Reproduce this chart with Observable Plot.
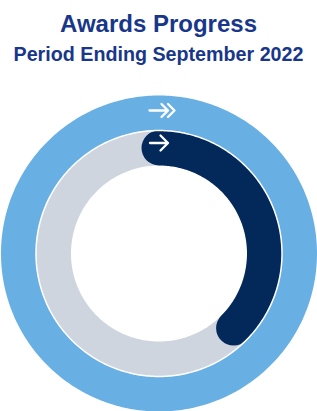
<!DOCTYPE html>
<html>
<head>
<meta charset="utf-8">
<script src="https://cdn.jsdelivr.net/npm/d3@7"></script>
<script src="https://cdn.jsdelivr.net/npm/@observablehq/plot@0.6"></script>
<style>
  html, body { margin: 0; padding: 0; background: #ffffff; }
  #wrap { position: relative; width: 317px; height: 411px; overflow: hidden; }
  .t { position: absolute; left: 0; width: 317px; text-align: center; white-space: nowrap;
       font-family: "Liberation Sans", Arial, sans-serif; font-weight: bold; color: #18378a; }
  #title { top: 12px; font-size: 24px; line-height: 24px; }
  #subtitle { top: 44.5px; font-size: 19.7px; line-height: 19.7px; }
  #chart { position: absolute; top: 70px; left: 0; }
</style>
</head>
<body>
<div id="wrap">
  <div class="t" id="title"></div>
  <div class="t" id="subtitle"></div>
  <div id="chart"></div>
</div>
<script>
// ---- data ----
const titleText = "Awards Progress";
const subtitleText = "Period Ending September 2022";
const rings = ["Target", "Awards"];
const progressPct = [100, 37.5];   // outer ring = full target, inner = awards progress
const trackPct = [100, 100];
const ringHeads = [2, 1];          // double arrow on outer ring, single on inner

document.getElementById("title").textContent = titleText;
document.getElementById("subtitle").textContent = subtitleText;

// ---- styling constants ----
const W = 317, H = 341;
const ringR = {Target: 140.5, Awards: 105.5, sep: 123};
const ringW = 35;
const colors = {Target: "#68afe4", Awards: "#03285a", track: "#cfd5de"};
const iconStyle = {
  Target: {dx: 3, dy: 2.5, len: 25, head: 6.5, gap: 6.5},
  Awards: {dx: 0, dy: 5, len: 18, head: 7.5, gap: 0}
};

function arcPoints(name, pct) {
  const r = ringR[name];
  const n = Math.max(2, Math.round(pct * 4));
  const pts = [];
  for (let i = 0; i <= n; i++) {
    const a = (pct / 100) * (i / n) * 2 * Math.PI;
    pts.push({ring: name, x: r * Math.sin(a), y: r * Math.cos(a)});
  }
  return pts;
}

function arrowShape(heads, head, gap) {
  return {
    draw(context, l) {
      const shaftEnd = -l + (heads - 1) * gap;
      context.moveTo(0, 0);
      context.lineTo(0, shaftEnd);
      for (let k = 0; k < heads; k++) {
        const tip = -l + k * gap;
        context.moveTo(-head, tip + head);
        context.lineTo(0, tip);
        context.lineTo(head, tip + head);
      }
    }
  };
}

const outer = arcPoints(rings[0], progressPct[0]);
const track = arcPoints(rings[1], trackPct[1]);
const progress = arcPoints(rings[1], progressPct[1]);
const sepPts = arcPoints("sep", 100);

const iconMarks = rings.map((name, i) => {
  const s = iconStyle[name];
  return Plot.vector([name], {
    x: () => s.dx,
    y: () => ringR[name] + s.dy,
    length: s.len,
    rotate: 90,
    anchor: "middle",
    shape: arrowShape(ringHeads[i], s.head, s.gap),
    stroke: "#ffffff",
    strokeWidth: 2.3,
    strokeLinecap: "round",
    strokeLinejoin: "round"
  });
});

const chart = Plot.plot({
  width: W,
  height: H,
  margin: 0,
  x: {domain: [-158.5, 158.5], axis: null},
  y: {domain: [-158, 183], axis: null},
  marks: [
    Plot.line(outer, {x: "x", y: "y", stroke: colors.Target, strokeWidth: ringW, curve: "linear-closed"}),
    Plot.line(track, {x: "x", y: "y", stroke: colors.track, strokeWidth: ringW, curve: "linear-closed"}),
    Plot.line(progress, {x: "x", y: "y", stroke: colors.Awards, strokeWidth: ringW, strokeLinecap: "round", strokeLinejoin: "round"}),
    Plot.line(sepPts, {x: "x", y: "y", stroke: "#ffffff", strokeWidth: 1.5, curve: "linear-closed"}),
    ...iconMarks
  ]
});
document.getElementById("chart").appendChild(chart);
</script>
</body>
</html>
